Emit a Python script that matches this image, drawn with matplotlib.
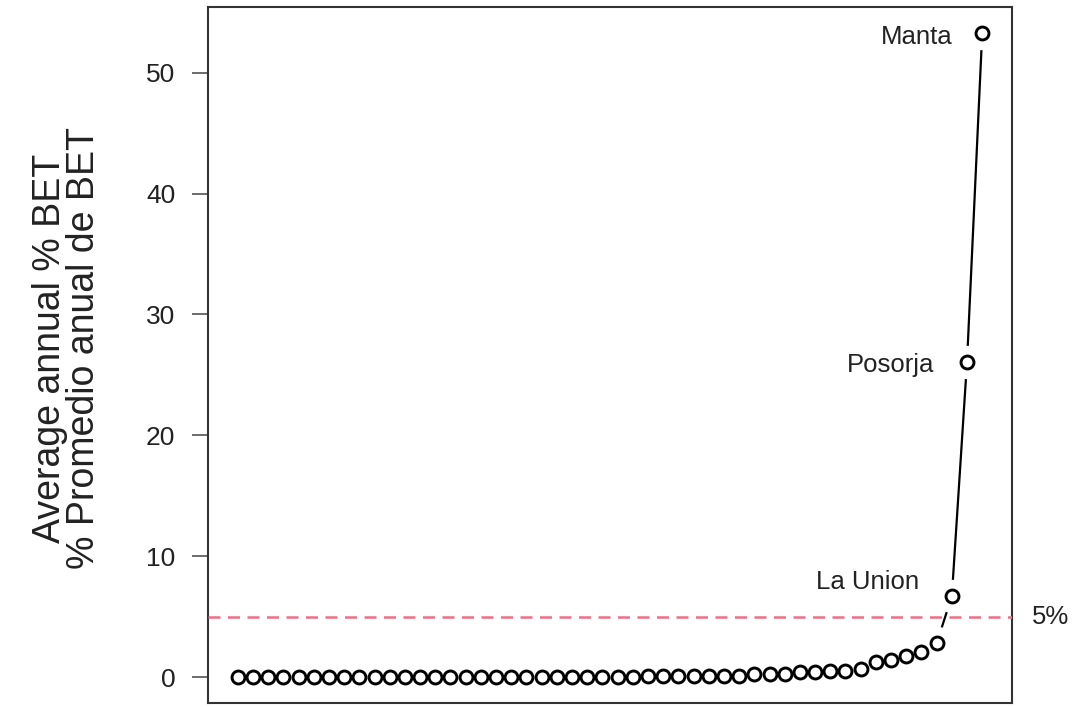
import matplotlib
matplotlib.use('Agg')
import matplotlib.pyplot as plt
import numpy as np

plt.rcParams['font.family'] = ['Liberation Sans', 'DejaVu Sans']

# average annual % BET per port, sorted ascending
bet = [0.0, 0.0, 0.0, 0.0, 0.0, 0.0, 0.0, 0.0, 0.0, 0.0,
       0.0, 0.0, 0.0, 0.0, 0.0, 0.0, 0.0, 0.0, 0.0, 0.0,
       0.0, 0.0, 0.0, 0.0, 0.0, 0.0, 0.0, 0.08, 0.08, 0.08,
       0.08, 0.08, 0.08, 0.08, 0.25, 0.25, 0.25, 0.4, 0.4, 0.5,
       0.5, 0.65, 1.25, 1.4, 1.75, 2.05, 2.8, 6.7, 26.1, 53.3]
labels = ["La Union", "Posorja", "Manta"]
label_idx = [47, 48, 49]
label_off = [(-33, 14), (-33, -3), (-30, -4)]   # pixel offsets
yticks = [0, 10, 20, 30, 40, 50]
threshold = 5

x = np.arange(1, len(bet) + 1)
y = np.array(bet)

fig = plt.figure(figsize=(10.73, 7.07), dpi=100)
ax = fig.add_axes([208 / 1073, 4 / 707, 804 / 1073, 696 / 707])

# line with gaps around points (R type="b")
ax.plot(x, y, color='black', lw=1.6, zorder=1)
ax.plot(x, y, ls='none', marker='o', ms=23, mfc='white', mec='white', zorder=2)
ax.axhline(threshold, color='#ee6e85', ls=(0, (4.8, 3)), lw=1.8, zorder=3)
ax.plot(x, y, ls='none', marker='o', ms=9.3, mfc='white', mec='black', mew=2.1, zorder=4)

for name, i, off in zip(labels, label_idx, label_off):
    ax.annotate(name, (x[i], y[i]), xytext=(off[0] * 0.72, off[1] * 0.72),
                textcoords='offset points', ha='right', va='center',
                fontsize=18.5, color='#222222')

ax.text(1.025, threshold, "5%", transform=ax.get_yaxis_transform(),
        ha='left', va='center', fontsize=18.5, color='#222222', clip_on=False)

n = len(bet)
ax.set_xlim(1 - 0.04 * (n - 1), n + 0.04 * (n - 1))
ax.set_ylim(-0.04 * max(bet), max(bet) * 1.04)
ax.set_xticks([])
ax.set_yticks(yticks)
ax.tick_params(axis='y', length=11.5, width=1.1, pad=12, labelsize=19,
               labelcolor='#222222', color='#444444')
for s in ax.spines.values():
    s.set_linewidth(1.5)
    s.set_color('#333333')

fig.text(67 / 1073, 1 - 348 / 707, "Average annual % BET\n% Promedio anual de BET",
         rotation=90, ha='center', va='center', multialignment='center',
         linespacing=0.92, fontsize=27, color='#222222')

fig.savefig('out.png', dpi=100)
